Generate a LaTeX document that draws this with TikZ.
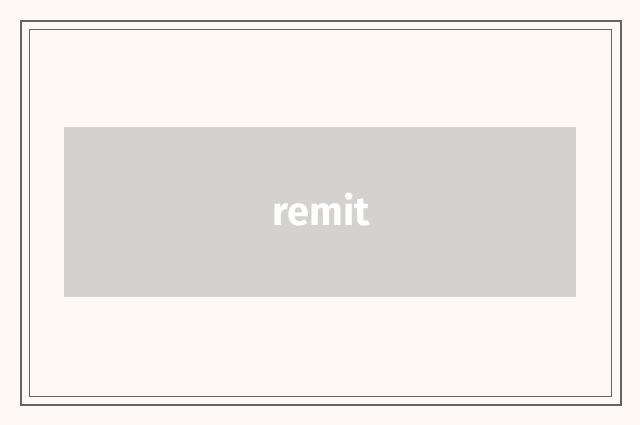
\documentclass[tikz,border=0pt]{standalone}
\usepackage{fontspec}
\setmainfont{Fira Sans}
\definecolor{bgc}{HTML}{FFF9F5}
\definecolor{framec}{HTML}{666363}
\definecolor{boxc}{HTML}{D4D1CE}
\begin{document}
\begin{tikzpicture}[x=1pt,y=-1pt,
  outerframe/.style={draw=framec,line width=2pt},
  innerframe/.style={draw=framec,line width=1pt},
  labelbox/.style={fill=boxc,draw=none,inner sep=0pt,minimum width=512pt,minimum height=170pt},
  labeltext/.style={inner sep=0pt,text=white,font=\fontsize{40}{46}\selectfont\bfseries}]
\fill[bgc] (0,0) rectangle (640,425);
\useasboundingbox (0,0) rectangle (640,425);
\draw[outerframe] (21,21) rectangle (621,405);
\draw[innerframe] (29.5,29.5) rectangle (611.5,396.5);
\node[labelbox] (lbl) at (320,212) {};
\node[labeltext] (lbltext) at (321.5,210) {remit};
\end{tikzpicture}
\end{document}
